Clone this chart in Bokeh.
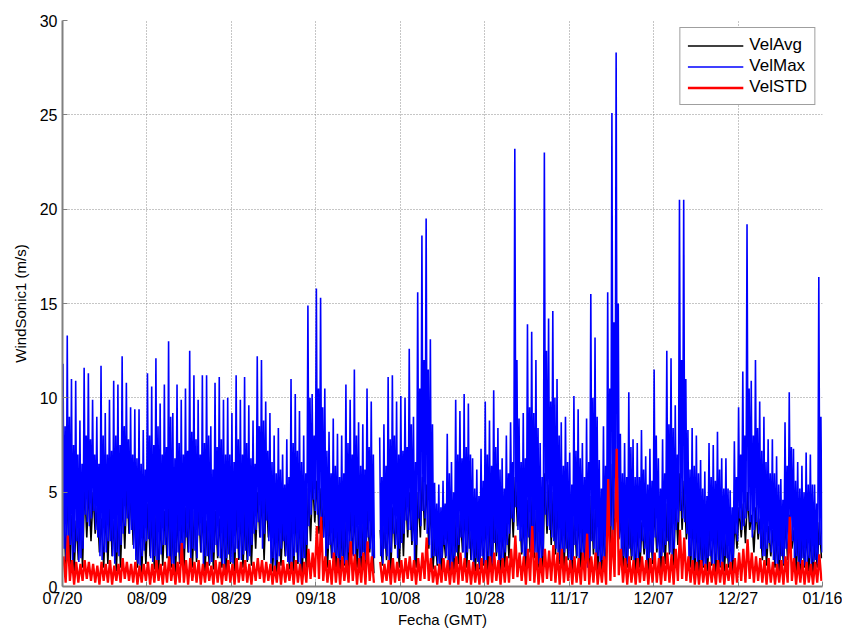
import numpy as np
from bokeh.plotting import figure
from bokeh.models import FixedTicker, Legend
from bokeh.embed import file_html
from bokeh.resources import INLINE

nan = float("nan")

# Tick positions (days after 07/20) and their labels
tick_days = [0, 20, 40, 60, 80, 100, 120, 140, 160, 180]
tick_labels = ["07/20", "08/09", "08/29", "09/18", "10/08",
               "10/28", "11/17", "12/07", "12/27", "01/16"]
y_ticks = [0, 5, 10, 15, 20, 25, 30]

# Values (m/s), one entry per day, day 0 = 07/20
# VelMax: main daily peak, trough, secondary peak, secondary trough
vel_max_high = [
    11.8, 13.3, 11.0, 10.9, 8.8, 11.6, 11.3, 9.9, 9.0, 11.7,
    9.2, 9.9, 10.9, 10.7, 12.2, 10.8, 9.5, 9.4, 9.4, 8.3,
    11.3, 10.6, 12.1, 9.7, 10.7, 13.0, 9.2, 10.7, 9.9, 10.5,
    12.5, 11.2, 9.9, 11.2, 11.2, 8.5, 10.8, 11.1, 9.9, 10.0,
    9.2, 11.2, 9.9, 11.1, 9.6, 8.8, 12.2, 12.0, 9.8, 9.2,
    8.0, 8.4, 7.0, 7.8, 11.0, 10.2, 9.3, 8.0, 14.9, 10.2,
    15.8, 15.3, 10.5, 8.2, 8.9, 8.1, 8.0, 10.7, 9.9, 11.5,
    8.7, 8.6, 10.5, 9.8, nan, 7.9, 8.6, 11.1, 11.2, 9.8,
    10.1, 10.0, 12.6, 9.0, 15.6, 18.6, 19.5, 13.1, 5.5, 5.4,
    5.6, 8.1, 6.6, 9.9, 9.3, 10.2, 9.7, 6.8, 6.2, 7.3,
    9.8, 8.8, 10.4, 8.4, 6.8, 8.0, 8.7, 23.2, 8.9, 9.2,
    13.9, 13.5, 12.0, 7.6, 23.0, 14.2, 14.6, 11.0, 8.7, 9.0,
    7.1, 10.1, 9.4, 7.6, 8.9, 15.5, 13.2, 6.7, 8.5, 15.6,
    25.1, 28.3, 8.1, 7.6, 10.3, 7.8, 7.6, 8.3, 6.9, 7.3,
    11.5, 6.8, 7.8, 12.5, 12.1, 9.6, 20.5, 20.5, 8.3, 8.4,
    8.0, 6.7, 6.1, 7.6, 7.5, 8.2, 6.8, 6.8, 5.1, 7.7,
    9.5, 11.4, 19.2, 10.9, 12.0, 9.8, 9.0, 7.8, 7.8, 6.9,
    5.7, 8.7, 10.3, 7.3, 6.6, 6.4, 7.1, 7.0, 5.4, 16.4,
]
vel_max_low = [
    2.0, 1.6, 1.2, 2.4, 1.5, 3.8, 3.2, 4.0, 2.6, 1.4,
    1.8, 2.4, 1.2, 1.6, 2.8, 3.6, 3.0, 1.4, 1.1, 1.9,
    2.5, 1.3, 1.0, 1.7, 2.2, 1.5, 1.0, 1.8, 1.2, 2.6,
    1.4, 1.9, 2.7, 1.1, 1.6, 1.3, 2.2, 1.5, 1.0, 1.7,
    1.2, 2.0, 1.4, 1.9, 1.6, 2.8, 3.4, 2.0, 3.5, 1.2,
    1.0, 1.6, 2.4, 1.3, 1.1, 1.8, 1.0, 1.5, 3.2, 4.6,
    3.8, 3.5, 1.5, 2.2, 1.2, 1.0, 1.6, 1.2, 2.4, 1.4,
    1.2, 1.8, 2.6, 1.0, nan, 1.6, 2.0, 1.2, 2.8, 1.5,
    2.3, 3.5, 3.0, 1.4, 3.6, 4.0, 2.8, 1.3, 1.6, 1.1,
    2.2, 1.2, 1.0, 1.8, 2.6, 1.4, 2.0, 1.1, 1.3, 1.6,
    1.2, 1.5, 2.3, 1.0, 1.4, 2.2, 3.6, 4.2, 2.4, 1.3,
    2.6, 2.2, 1.5, 1.2, 3.8, 3.0, 2.4, 1.8, 1.3, 2.0,
    1.0, 2.2, 1.4, 1.6, 1.0, 2.4, 1.2, 1.0, 1.2, 2.8,
    3.0, 3.4, 1.2, 1.5, 2.0, 1.1, 1.4, 2.4, 1.2, 1.8,
    2.6, 1.3, 1.8, 2.4, 1.6, 3.0, 4.0, 3.4, 1.4, 1.2,
    1.0, 1.4, 1.1, 1.6, 1.0, 1.4, 1.2, 1.5, 1.1, 2.8,
    3.6, 3.2, 4.0, 2.6, 3.4, 2.0, 1.6, 2.3, 1.4, 1.0,
    1.6, 2.0, 2.8, 1.2, 1.0, 1.5, 1.2, 1.0, 1.4, 2.2,
]
vel_max_high2 = [
    8.5, 9.0, 7.5, 7.0, 6.5, 8.0, 7.8, 7.0, 6.5, 8.0,
    7.0, 7.2, 8.0, 7.5, 8.5, 7.8, 7.0, 6.8, 6.5, 6.2,
    8.0, 7.5, 8.5, 7.0, 7.4, 9.0, 6.8, 7.6, 7.0, 7.2,
    8.2, 7.8, 7.0, 7.6, 8.0, 6.2, 7.4, 7.8, 7.0, 7.0,
    6.6, 7.8, 7.0, 7.6, 6.8, 6.5, 8.5, 8.8, 7.2, 6.6,
    6.0, 6.2, 5.4, 5.8, 7.6, 7.2, 6.6, 6.0, 10.0, 8.0,
    10.5, 9.5, 7.2, 6.0, 6.4, 5.8, 6.0, 7.6, 7.0, 8.0,
    6.4, 6.2, 7.4, 7.0, nan, 5.8, 6.4, 7.8, 8.0, 7.0,
    7.2, 7.4, 8.6, 6.6, 10.5, 12.0, 11.5, 8.6, 4.4, 4.2,
    4.4, 6.0, 5.0, 7.0, 6.8, 7.4, 7.0, 5.2, 4.8, 5.6,
    7.0, 6.4, 7.4, 6.2, 5.2, 6.0, 6.6, 12.0, 6.6, 6.8,
    9.5, 9.2, 8.4, 5.8, 12.5, 9.8, 10.0, 8.0, 6.4, 6.6,
    5.4, 7.2, 6.8, 5.8, 6.6, 10.0, 9.0, 5.2, 6.4, 10.5,
    14.0, 15.0, 6.0, 5.8, 7.4, 5.8, 5.8, 6.2, 5.4, 5.6,
    8.0, 5.2, 6.0, 8.6, 8.4, 7.0, 12.0, 11.0, 6.2, 6.4,
    6.0, 5.2, 4.8, 5.8, 5.6, 6.2, 5.2, 5.2, 4.2, 5.8,
    7.0, 8.0, 10.5, 8.0, 8.4, 7.2, 6.6, 6.0, 6.0, 5.4,
    4.6, 6.4, 7.4, 5.6, 5.2, 5.0, 5.4, 5.4, 4.4, 9.0,
]
vel_max_low2 = [
    1.4, 2.2, 1.8, 1.3, 2.0, 3.4, 3.6, 3.0, 1.6, 1.8,
    2.4, 1.6, 1.8, 2.2, 3.2, 2.8, 2.0, 1.2, 1.6, 2.4,
    1.5, 1.6, 1.4, 2.2, 1.6, 1.2, 1.6, 1.3, 2.0, 1.8,
    2.0, 1.5, 1.8, 1.6, 1.2, 1.8, 1.6, 1.2, 1.5, 1.3,
    1.8, 1.5, 1.7, 1.4, 2.2, 3.0, 2.6, 2.8, 2.4, 1.5,
    1.4, 2.0, 1.6, 1.2, 1.6, 1.3, 1.5, 2.2, 3.8, 4.0,
    3.2, 2.6, 2.0, 1.5, 1.6, 1.4, 1.2, 1.8, 1.6, 2.0,
    1.6, 1.4, 2.0, 1.5, nan, 1.2, 1.6, 1.8, 2.2, 2.0,
    2.8, 3.0, 2.4, 2.2, 3.2, 3.6, 2.2, 1.6, 1.2, 1.5,
    1.6, 1.0, 1.5, 2.2, 1.8, 1.8, 1.4, 1.5, 1.0, 1.2,
    1.6, 1.2, 1.8, 1.4, 1.8, 2.8, 3.4, 3.0, 1.8, 1.6,
    2.0, 1.8, 1.2, 1.6, 3.2, 2.6, 2.0, 1.4, 1.8, 1.5,
    1.4, 1.6, 1.8, 1.2, 1.5, 2.0, 1.6, 1.4, 1.8, 3.2,
    3.6, 2.6, 1.6, 1.2, 1.6, 1.5, 1.8, 2.0, 1.5, 1.4,
    2.0, 1.6, 2.2, 1.8, 2.0, 3.4, 3.6, 2.8, 1.6, 1.5,
    1.4, 1.1, 1.5, 1.2, 1.4, 1.1, 1.6, 1.2, 1.4, 2.4,
    3.0, 3.6, 3.4, 3.0, 2.8, 1.6, 2.0, 1.8, 1.2, 1.4,
    1.2, 1.6, 2.4, 1.6, 1.2, 1.1, 1.5, 1.3, 1.2, 1.8,
]
# VelAvg: daily high and low
vel_avg_high = [
    4.5, 5.0, 3.8, 3.5, 4.0, 5.5, 5.2, 5.0, 4.2, 3.6,
    4.0, 4.6, 3.5, 3.8, 4.8, 5.5, 5.2, 4.0, 3.2, 3.6,
    4.4, 3.8, 4.2, 3.5, 4.0, 4.6, 3.4, 3.8, 3.6, 4.2,
    4.5, 4.0, 4.4, 3.8, 3.5, 3.2, 4.0, 3.6, 3.4, 3.8,
    3.6, 4.2, 3.8, 4.0, 3.6, 4.4, 5.0, 4.8, 5.0, 3.6,
    3.2, 3.4, 3.6, 3.0, 3.8, 4.0, 3.6, 3.4, 5.2, 5.8,
    5.6, 5.2, 4.0, 3.6, 3.2, 3.0, 3.4, 3.6, 4.0, 3.8,
    3.2, 3.4, 4.0, 3.6, nan, 3.0, 3.4, 3.8, 4.2, 3.6,
    4.4, 5.3, 5.0, 3.8, 5.0, 5.8, 5.4, 4.4, 2.8, 2.6,
    2.8, 3.2, 2.6, 3.6, 3.8, 4.0, 3.8, 3.0, 2.8, 3.2,
    3.6, 3.4, 4.0, 3.2, 3.0, 3.6, 5.0, 5.8, 4.2, 3.4,
    4.6, 4.8, 4.0, 3.2, 6.0, 5.4, 5.0, 4.2, 3.4, 3.6,
    3.0, 3.8, 3.6, 3.2, 3.4, 4.8, 4.2, 2.8, 3.2, 5.0,
    6.5, 7.0, 3.6, 3.0, 3.8, 3.2, 3.0, 3.4, 3.0, 3.2,
    4.2, 3.0, 3.4, 4.4, 4.2, 4.6, 6.0, 5.6, 3.8, 3.6,
    3.4, 3.0, 2.8, 3.0, 3.2, 3.4, 3.0, 2.8, 2.6, 3.6,
    4.2, 4.4, 5.0, 3.8, 4.2, 3.6, 3.4, 3.2, 3.0, 2.6,
    3.0, 3.4, 3.8, 3.0, 2.8, 3.0, 2.8, 2.6, 2.4, 3.4,
]
vel_avg_low = [
    1.2, 1.0, 0.8, 1.4, 1.0, 2.6, 2.4, 2.8, 1.8, 1.0,
    1.2, 1.6, 0.8, 1.0, 2.0, 2.8, 2.2, 1.0, 0.7, 1.2,
    1.6, 0.9, 0.7, 1.1, 1.5, 1.0, 0.7, 1.2, 0.8, 1.8,
    1.0, 1.3, 1.8, 0.8, 1.1, 0.9, 1.5, 1.0, 0.7, 1.2,
    0.8, 1.4, 1.0, 1.3, 1.1, 2.0, 2.6, 1.4, 2.6, 0.8,
    0.7, 1.1, 1.6, 0.9, 0.8, 1.2, 0.7, 1.0, 2.4, 3.4,
    2.8, 2.6, 1.0, 1.5, 0.8, 0.7, 1.1, 0.8, 1.7, 1.0,
    0.8, 1.2, 1.8, 0.7, nan, 1.1, 1.4, 0.8, 2.0, 1.0,
    1.6, 2.6, 2.2, 1.0, 2.6, 3.0, 2.0, 0.9, 1.1, 0.8,
    1.5, 0.8, 0.7, 1.2, 1.8, 1.0, 1.4, 0.8, 0.9, 1.1,
    0.8, 1.0, 1.6, 0.7, 1.0, 1.5, 2.6, 3.2, 1.7, 0.9,
    1.8, 1.5, 1.0, 0.8, 2.8, 2.2, 1.7, 1.2, 0.9, 1.4,
    0.7, 1.5, 1.0, 1.1, 0.7, 1.7, 0.8, 0.7, 0.8, 2.0,
    2.2, 2.5, 0.8, 1.0, 1.4, 0.8, 1.0, 1.7, 0.8, 1.2,
    1.8, 0.9, 1.2, 1.7, 1.1, 2.2, 3.0, 2.5, 1.0, 0.8,
    0.7, 1.0, 0.8, 1.1, 0.7, 1.0, 0.8, 1.0, 0.8, 2.0,
    2.6, 2.3, 3.0, 1.8, 2.5, 1.4, 1.1, 1.6, 1.0, 0.7,
    1.1, 1.4, 2.0, 0.8, 0.7, 1.0, 0.8, 0.7, 1.0, 1.5,
]
# VelSTD: daily high and low
vel_std_high = [
    1.6, 2.7, 1.4, 1.3, 1.2, 1.4, 1.3, 1.2, 1.1, 1.3,
    1.2, 1.4, 1.1, 1.2, 1.5, 1.3, 1.2, 1.3, 1.1, 1.2,
    1.3, 1.2, 1.4, 1.2, 1.3, 1.6, 1.2, 1.3, 2.3, 1.4,
    1.5, 1.3, 1.4, 1.2, 1.3, 1.1, 1.4, 1.3, 1.2, 1.4,
    1.2, 1.5, 1.3, 1.4, 1.2, 1.3, 1.5, 1.4, 1.3, 1.2,
    1.1, 1.3, 1.4, 1.2, 1.3, 1.4, 1.2, 1.3, 2.0, 1.8,
    3.2, 3.7, 1.6, 1.4, 1.8, 1.5, 1.6, 1.4, 2.4, 1.7,
    1.5, 1.8, 2.4, 1.6, nan, 1.3, 1.2, 1.4, 1.5, 1.3,
    1.4, 1.5, 1.6, 1.4, 1.5, 1.8, 2.6, 1.5, 1.1, 1.2,
    1.5, 1.4, 1.3, 1.6, 1.8, 1.5, 1.4, 1.3, 1.2, 1.5,
    1.4, 1.6, 1.8, 1.4, 1.5, 1.6, 2.0, 2.7, 1.8, 1.6,
    2.0, 3.2, 1.8, 1.5, 2.0, 1.9, 2.2, 1.8, 2.0, 1.6,
    1.4, 1.6, 1.5, 1.8, 2.8, 1.6, 1.8, 1.3, 1.6, 5.7,
    3.0, 7.3, 2.0, 1.5, 1.6, 1.4, 1.5, 1.6, 1.4, 1.5,
    1.8, 1.5, 1.6, 1.8, 1.7, 2.0, 3.0, 2.6, 1.6, 1.4,
    1.3, 1.4, 1.2, 1.3, 1.2, 1.4, 1.3, 1.2, 1.3, 1.5,
    1.8, 2.0, 2.5, 1.8, 1.6, 1.5, 1.4, 1.5, 1.3, 1.2,
    1.4, 1.6, 3.7, 1.5, 1.3, 1.4, 1.3, 1.2, 1.3, 1.7,
]
vel_std_low = [
    0.2, 0.3, 0.1, 0.2, 0.3, 0.4, 0.3, 0.2, 0.1, 0.3,
    0.2, 0.1, 0.3, 0.2, 0.4, 0.3, 0.2, 0.1, 0.2, 0.3,
    0.1, 0.2, 0.3, 0.1, 0.2, 0.3, 0.1, 0.2, 0.2, 0.1,
    0.3, 0.2, 0.1, 0.2, 0.3, 0.1, 0.2, 0.1, 0.3, 0.2,
    0.1, 0.2, 0.3, 0.2, 0.1, 0.3, 0.4, 0.2, 0.3, 0.1,
    0.2, 0.1, 0.2, 0.3, 0.1, 0.2, 0.1, 0.2, 0.4, 0.5,
    0.4, 0.3, 0.2, 0.1, 0.2, 0.1, 0.3, 0.2, 0.3, 0.1,
    0.2, 0.1, 0.3, 0.2, nan, 0.2, 0.3, 0.1, 0.2, 0.3,
    0.2, 0.4, 0.3, 0.1, 0.3, 0.4, 0.3, 0.2, 0.1, 0.2,
    0.3, 0.1, 0.2, 0.1, 0.3, 0.2, 0.1, 0.2, 0.1, 0.2,
    0.1, 0.2, 0.3, 0.1, 0.2, 0.2, 0.4, 0.5, 0.3, 0.1,
    0.3, 0.2, 0.1, 0.2, 0.4, 0.3, 0.2, 0.1, 0.2, 0.3,
    0.1, 0.2, 0.1, 0.3, 0.1, 0.2, 0.1, 0.2, 0.1, 0.3,
    0.5, 0.6, 0.2, 0.1, 0.2, 0.1, 0.2, 0.3, 0.1, 0.2,
    0.2, 0.1, 0.3, 0.2, 0.1, 0.3, 0.4, 0.3, 0.2, 0.1,
    0.1, 0.2, 0.1, 0.2, 0.1, 0.2, 0.1, 0.3, 0.1, 0.2,
    0.3, 0.2, 0.4, 0.2, 0.3, 0.2, 0.1, 0.2, 0.1, 0.2,
    0.1, 0.2, 0.3, 0.1, 0.2, 0.1, 0.2, 0.1, 0.2, 0.3,
]

series_names = ["VelAvg", "VelMax", "VelSTD"]
series_colors = ["#000000", "#0000ff", "#ff0000"]


def sample_series(columns, offsets):
    """Interleave per-day columns into one time-ordered series."""
    n = len(columns[0])
    k = len(columns)
    days = np.arange(n, dtype=float)
    xs = np.empty(k * n)
    ys = np.empty(k * n)
    for j, (col, off) in enumerate(zip(columns, offsets)):
        xs[j::k] = days + off
        ys[j::k] = np.asarray(col, dtype=float)
    return xs, ys


FONT = "Liberation Sans"

p = figure(width=842, height=630, x_range=(0, 180), y_range=(0, 30),
           output_backend="svg", toolbar_location=None,
           min_border_left=62, min_border_right=20, min_border_top=20,
           min_border_bottom=42)
p.outline_line_color = None
p.background_fill_color = "white"

xa, ya = sample_series([vel_avg_high, vel_avg_low], [0.25, 0.75])
xm, ym = sample_series([vel_max_high, vel_max_low, vel_max_high2, vel_max_low2],
                       [0.125, 0.375, 0.625, 0.875])
xs, ys = sample_series([vel_std_high, vel_std_low], [0.25, 0.75])

r_avg = p.line(xa, ya, line_color=series_colors[0], line_width=1.6)
r_max = p.line(xm, ym, line_color=series_colors[1], line_width=1.6)
r_std = p.line(xs, ys, line_color=series_colors[2], line_width=2.3)

legend = Legend(items=[(series_names[0], [r_avg]),
                       (series_names[1], [r_max]),
                       (series_names[2], [r_std])],
                location="top_right")
legend.label_text_font = FONT
legend.label_text_font_size = "17px"
legend.label_text_color = "black"
legend.glyph_width = 56
legend.glyph_height = 19
legend.label_height = 19
legend.spacing = 1
legend.padding = 7
legend.margin = 7
legend.label_standoff = 6
legend.border_line_color = "#404040"
legend.border_line_width = 1
legend.background_fill_color = "white"
legend.background_fill_alpha = 1.0
p.add_layout(legend)

# axes
p.xaxis.ticker = FixedTicker(ticks=tick_days)
p.xaxis.major_label_overrides = {d: lbl for d, lbl in zip(tick_days, tick_labels)}
p.yaxis.ticker = FixedTicker(ticks=y_ticks)
p.xaxis.axis_label = "Fecha (GMT)"
p.yaxis.axis_label = "WindSonic1 (m/s)"

for ax in (p.xaxis[0], p.yaxis[0]):
    ax.axis_line_color = "#808080"
    ax.axis_line_width = 2
    ax.major_tick_line_color = "#808080"
    ax.major_tick_in = 5
    ax.major_tick_out = 0
    ax.minor_tick_line_color = None
    ax.major_label_text_font = FONT
    ax.major_label_text_font_size = "16px"
    ax.major_label_text_color = "black"
    ax.axis_label_text_font = FONT
    ax.axis_label_text_font_size = "15px"
    ax.axis_label_text_font_style = "normal"
    ax.axis_label_text_color = "black"

p.xaxis.major_label_standoff = 3
p.xaxis.axis_label_standoff = 1
p.yaxis.major_label_standoff = 5
p.yaxis.axis_label_standoff = 8

p.xgrid[0].ticker = FixedTicker(ticks=tick_days)
p.ygrid[0].ticker = FixedTicker(ticks=y_ticks)
for g in (p.xgrid[0], p.ygrid[0]):
    g.grid_line_color = "#8c8c8c"
    g.grid_line_dash = "1 2"
    g.grid_line_width = 1

open("out.html", "w").write(file_html(p, INLINE))
